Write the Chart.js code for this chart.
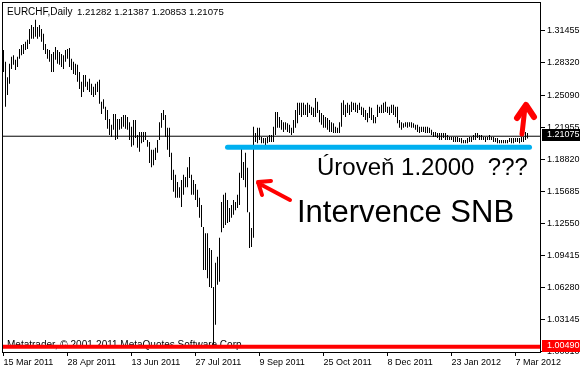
<!DOCTYPE html>
<html><head><meta charset="utf-8">
<script src="https://cdn.jsdelivr.net/npm/chart.js@4/dist/chart.umd.min.js"></script>
<style>html,body{margin:0;padding:0;background:#fff;}canvas{display:block;}</style>
</head><body>
<canvas id="c" width="580" height="370" style="width:580px;height:370px"></canvas>
<script>
// ---- data (EURCHF daily, 15 Mar 2011 - Mar 2012) ----
const symbolTitle = "EURCHF,Daily";
const lastOHLC = [1.21282, 1.21387, 1.20853, 1.21075];
const dateLabels = ["15 Mar 2011","28 Apr 2011","13 Jun 2011","27 Jul 2011","9 Sep 2011","25 Oct 2011","8 Dec 2011","23 Jan 2012","7 Mar 2012"];
const dateLabelIndex = [0,32,64,96,128,160,192,224,256];
const priceTicks = [1.31455,1.28320,1.25090,1.21955,1.18820,1.15685,1.12550,1.09415,1.06280,1.03145,1.00010];
const barHighs = [
1.2950,1.2835,1.2685,1.2815,1.2885,1.2900,1.2855,1.2885,1.2960,1.3000,
1.3010,1.3030,1.3050,1.3155,1.3195,1.3175,1.3245,1.3175,1.3195,1.3155,
1.3110,1.3010,1.2960,1.2950,1.2910,1.2930,1.2980,1.2950,1.2930,1.2910,
1.2900,1.2950,1.2960,1.2970,1.2865,1.2835,1.2815,1.2805,1.2735,1.2640,
1.2705,1.2705,1.2640,1.2670,1.2620,1.2590,1.2620,1.2640,1.2660,1.2445,
1.2470,1.2395,1.2365,1.2275,1.2220,1.2325,1.2325,1.2275,1.2275,1.2295,
1.2315,1.2315,1.2295,1.2245,1.2200,1.2265,1.2265,1.2120,1.2150,1.2150,
1.2150,1.2150,1.2070,1.2050,1.1975,1.1975,1.1995,1.2070,1.2245,1.2335,
1.2365,1.2315,1.2190,1.2190,1.1945,1.1780,1.1730,1.1660,1.1610,1.1680,
1.1730,1.1710,1.1805,1.1905,1.1730,1.1680,1.1640,1.1585,1.1505,1.1435,
1.1220,1.1160,1.1160,1.1015,1.0995,1.0635,1.0870,1.0930,1.1115,1.1465,
1.1535,1.1555,1.1485,1.1405,1.1435,1.1485,1.1465,1.1535,1.1750,1.1995,
1.1855,1.1945,1.1800,1.1365,1.1210,1.2200,1.2140,1.2190,1.2190,1.2100,
1.2090,1.2090,1.2100,1.2120,1.2120,1.2200,1.2345,1.2345,1.2295,1.2265,
1.2245,1.2245,1.2235,1.2220,1.2190,1.2265,1.2365,1.2435,1.2435,1.2435,
1.2435,1.2415,1.2435,1.2415,1.2395,1.2385,1.2480,1.2445,1.2365,1.2335,
1.2315,1.2295,1.2285,1.2265,1.2245,1.2235,1.2200,1.2190,1.2245,1.2435,
1.2460,1.2415,1.2435,1.2415,1.2445,1.2435,1.2435,1.2415,1.2435,1.2395,
1.2385,1.2365,1.2335,1.2395,1.2385,1.2315,1.2295,1.2415,1.2395,1.2415,
1.2435,1.2445,1.2395,1.2395,1.2415,1.2415,1.2395,1.2395,1.2265,1.2245,
1.2235,1.2245,1.2245,1.2245,1.2245,1.2235,1.2220,1.2220,1.2200,1.2200,
1.2200,1.2200,1.2200,1.2190,1.2170,1.2150,1.2150,1.2140,1.2140,1.2140,
1.2140,1.2140,1.2120,1.2100,1.2100,1.2100,1.2100,1.2100,1.2090,1.2090,
1.2070,1.2070,1.2090,1.2100,1.2100,1.2120,1.2140,1.2140,1.2120,1.2120,
1.2100,1.2100,1.2100,1.2120,1.2100,1.2100,1.2090,1.2090,1.2070,1.2070,
1.2070,1.2070,1.2070,1.2090,1.2090,1.2090,1.2090,1.2090,1.2090,1.2100,
1.2100,1.2150,1.21387];
const barLows = [
1.2735,1.2395,1.2510,1.2620,1.2765,1.2805,1.2755,1.2785,1.2865,1.2900,
1.2910,1.2950,1.2960,1.3010,1.3060,1.3060,1.3080,1.3060,1.3080,1.3030,
1.2950,1.2910,1.2865,1.2835,1.2735,1.2735,1.2855,1.2815,1.2805,1.2785,
1.2765,1.2835,1.2865,1.2785,1.2755,1.2715,1.2705,1.2640,1.2570,1.2490,
1.2540,1.2590,1.2560,1.2540,1.2510,1.2490,1.2510,1.2540,1.2425,1.2325,
1.2375,1.2265,1.2180,1.2120,1.2100,1.2170,1.2070,1.2080,1.2170,1.2180,
1.2200,1.2180,1.2170,1.2070,1.2005,1.2020,1.2090,1.1995,1.1955,1.2040,
1.2050,1.2070,1.2005,1.1845,1.1805,1.1825,1.1875,1.1945,1.2070,1.2190,
1.2265,1.2100,1.1975,1.1905,1.1680,1.1565,1.1505,1.1505,1.1505,1.1415,
1.1535,1.1610,1.1610,1.1700,1.1535,1.1535,1.1485,1.1415,1.1310,1.1220,
1.0800,1.0800,1.0720,1.0635,1.0625,1.0070,1.0265,1.0655,1.0685,1.1170,
1.1210,1.1240,1.1260,1.1270,1.1310,1.1340,1.1385,1.1405,1.1435,1.1700,
1.1680,1.1610,1.1365,1.1015,1.1025,1.1115,1.2050,1.2040,1.2070,1.2040,
1.2040,1.2020,1.2040,1.2050,1.2050,1.2050,1.2120,1.2190,1.2190,1.2170,
1.2150,1.2170,1.2150,1.2140,1.2120,1.2140,1.2190,1.2235,1.2315,1.2295,
1.2315,1.2315,1.2295,1.2335,1.2315,1.2295,1.2295,1.2335,1.2245,1.2220,
1.2190,1.2190,1.2170,1.2150,1.2150,1.2140,1.2140,1.2140,1.2140,1.2200,
1.2315,1.2295,1.2335,1.2315,1.2345,1.2365,1.2345,1.2335,1.2365,1.2315,
1.2295,1.2265,1.2245,1.2285,1.2265,1.2235,1.2235,1.2295,1.2335,1.2335,
1.2335,1.2345,1.2335,1.2315,1.2335,1.2315,1.2295,1.2235,1.2190,1.2170,
1.2190,1.2200,1.2190,1.2200,1.2190,1.2190,1.2170,1.2150,1.2140,1.2150,
1.2150,1.2140,1.2140,1.2140,1.2120,1.2100,1.2100,1.2090,1.2070,1.2070,
1.2090,1.2070,1.2070,1.2070,1.2070,1.2050,1.2050,1.2050,1.2050,1.2040,
1.2040,1.2040,1.2040,1.2050,1.2050,1.2070,1.2070,1.2090,1.2070,1.2070,
1.2070,1.2050,1.2070,1.2070,1.2070,1.2050,1.2050,1.2040,1.2040,1.2040,
1.2040,1.2040,1.2040,1.2050,1.2040,1.2040,1.2050,1.2050,1.2040,1.2050,
1.2050,1.2070,1.20853];
const currentPrice = 1.21075;
const floorPrice = 1.00490;
const supportLevel = 1.2000;
const supportSpan = [112, 263];
const levelText = "Úroveň 1.2000  ???";
const snbText = "Intervence SNB";
const watermarkText = "Metatrader, © 2001-2011 MetaQuotes Software Corp.";

// ---- chart ----
const FONT = "'Liberation Sans', Arial, sans-serif";
const xMin = -0.75, xMax = 268.75;
const bars = barHighs.map((h, i) => ({x: i, y: [barLows[i], h]}));

const annot = {
  id: 'annot',
  beforeDatasetsDraw(chart) {
    const ctx = chart.ctx;
    ctx.save();
    ctx.fillStyle = '#000';
    ctx.font = `10px ${FONT}`;
    ctx.textBaseline = 'alphabetic';
    ctx.textAlign = 'left';
    ctx.fillText(watermarkText, 7, 348);
    ctx.restore();
  },
  afterDatasetsDraw(chart) {
    const ctx = chart.ctx, a = chart.chartArea;
    ctx.save();
    // frame
    ctx.strokeStyle = '#000'; ctx.lineWidth = 1;
    ctx.strokeRect(a.left + 0.5, a.top - 0.5, a.right - a.left - 1, a.bottom - a.top + 1);
    // header
    ctx.fillStyle = '#000';
    ctx.textBaseline = 'alphabetic'; ctx.textAlign = 'left';
    ctx.font = `10px ${FONT}`;
    ctx.fillText(symbolTitle, 7, 15);
    ctx.font = `9.6px ${FONT}`;
    ctx.fillText(lastOHLC.map(v => v.toFixed(5)).join(" "), 77, 15);
    // annotation texts
    ctx.font = `24px ${FONT}`;
    ctx.fillText(levelText, 317, 175);
    ctx.font = `31px ${FONT}`;
    ctx.fillText(snbText, 297, 222);
    // red arrows
    ctx.strokeStyle = '#FF0000'; ctx.lineCap = 'round'; ctx.lineJoin = 'round';
    ctx.lineWidth = 4;
    ctx.beginPath();
    ctx.moveTo(290, 200); ctx.lineTo(258, 183);
    ctx.moveTo(271, 181); ctx.lineTo(258, 182); ctx.lineTo(262, 195);
    ctx.stroke();
    ctx.lineWidth = 5;
    ctx.beginPath();
    ctx.moveTo(522, 134); ctx.lineTo(525, 107);
    ctx.stroke();
    ctx.lineWidth = 6;
    ctx.beginPath();
    ctx.moveTo(517, 118); ctx.lineTo(526, 105); ctx.lineTo(534, 117);
    ctx.stroke();
    ctx.restore();
  },
  afterDraw(chart) {
    const ctx = chart.ctx, y = chart.scales.y, a = chart.chartArea;
    ctx.save();
    ctx.font = `9px ${FONT}`;
    ctx.textBaseline = 'middle'; ctx.textAlign = 'left';
    [[currentPrice, '#000'], [floorPrice, '#FF0000']].forEach(([v, col]) => {
      const py = Math.round(y.getPixelForValue(v));
      ctx.fillStyle = col;
      ctx.fillRect(a.right + 1, py - 7, 580 - a.right - 1, 12);
      ctx.fillStyle = '#fff';
      ctx.fillText(v.toFixed(5), a.right + 6, py - 1);
    });
    ctx.restore();
  }
};

new Chart(document.getElementById('c'), {
  type: 'bar',
  data: {
    datasets: [
      {type: 'line', data: [{x: supportSpan[0], y: supportLevel}, {x: supportSpan[1], y: supportLevel}],
       borderColor: '#00B0F0', borderWidth: 5, borderCapStyle: 'round', pointRadius: 0, order: 1},
      {type: 'line', data: [{x: xMin, y: floorPrice}, {x: xMax, y: floorPrice}],
       borderColor: '#FF0000', borderWidth: 4, pointRadius: 0, order: 1},
      {type: 'line', data: [{x: xMin, y: currentPrice}, {x: xMax, y: currentPrice}],
       borderColor: '#000', borderWidth: 1, pointRadius: 0, order: 2},
      {type: 'bar', data: bars, backgroundColor: '#000', borderWidth: 0,
       barThickness: 1, inflateAmount: 0, order: 3}
    ]
  },
  options: {
    responsive: false, animation: false, events: [],
    layout: {padding: {left: 2, top: 3, right: 0, bottom: 0}},
    plugins: {legend: {display: false}, tooltip: {enabled: false}},
    scales: {
      x: {
        type: 'linear', min: xMin, max: xMax, offset: false,
        grid: {display: true, drawOnChartArea: false, drawTicks: true, tickLength: 4, color: '#000', offset: false},
        border: {display: false},
        ticks: {autoSkip: false, maxRotation: 0, minRotation: 0, align: 'start', padding: 1, color: '#000',
                font: {family: FONT, size: 9},
                callback: (v) => { const k = dateLabelIndex.indexOf(v); return k >= 0 ? dateLabels[k] : ''; }},
        afterBuildTicks: (s) => { s.ticks = dateLabelIndex.map(v => ({value: v})); },
        afterFit: (s) => { s.height = 18; s.paddingLeft = 0; s.paddingRight = 0; }
      },
      y: {
        type: 'linear', position: 'right', min: 0.99985, max: 1.34097,
        grid: {drawOnChartArea: false, drawTicks: true, tickLength: 4, color: '#000'},
        border: {display: false},
        ticks: {padding: 2, color: '#000', font: {family: FONT, size: 9}, callback: (v) => Number(v).toFixed(5)},
        afterBuildTicks: (s) => { s.ticks = priceTicks.map(v => ({value: v})); },
        afterFit: (s) => { s.width = 39; s.paddingTop = 0; s.paddingBottom = 0; }
      }
    }
  },
  plugins: [annot]
});
</script>
</body></html>
